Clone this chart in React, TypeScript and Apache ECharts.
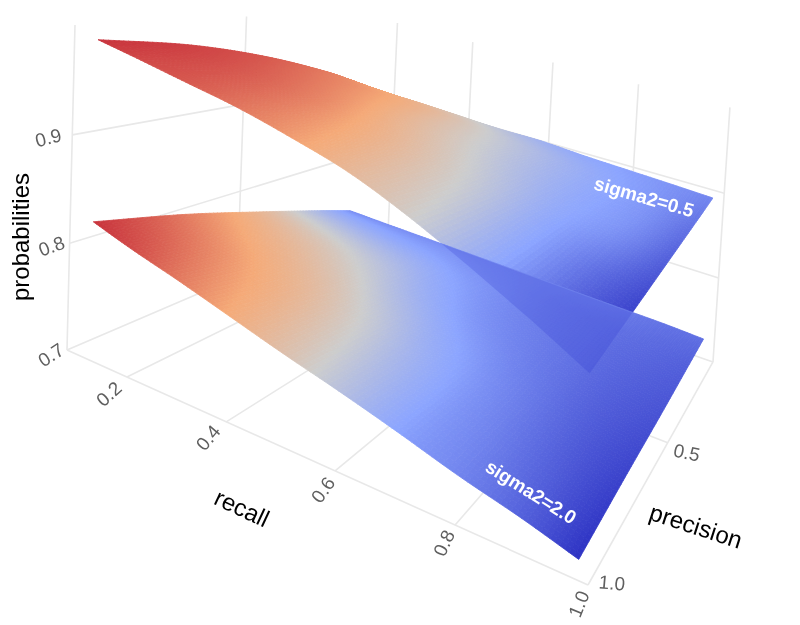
import React, { useEffect, useRef } from "react";
import * as echarts from "echarts";

// ---- values ----
const recallNodes = [0.12, 0.2, 0.3, 0.4, 0.5, 0.6, 0.7, 0.8, 0.9, 0.985];
const precisionNodes = [1, 0.75, 0.5, 0.25, 0.1];

const upperProb = [
  [0.993, 0.987, 0.979, 0.971, 0.96, 0.947, 0.928, 0.905, 0.88, 0.857],
  [0.981, 0.975, 0.968, 0.96, 0.95, 0.938, 0.923, 0.904, 0.884, 0.868],
  [0.961, 0.957, 0.951, 0.945, 0.937, 0.928, 0.917, 0.903, 0.889, 0.879],
  [0.934, 0.931, 0.927, 0.923, 0.919, 0.914, 0.909, 0.902, 0.894, 0.89],
  [0.914, 0.911, 0.91, 0.908, 0.906, 0.906, 0.903, 0.901, 0.899, 0.897],
];
const lowerProb = [
  [0.828, 0.817, 0.805, 0.792, 0.779, 0.767, 0.754, 0.74, 0.728, 0.716],
  [0.808, 0.799, 0.789, 0.778, 0.768, 0.758, 0.748, 0.738, 0.729, 0.721],
  [0.784, 0.778, 0.771, 0.764, 0.758, 0.752, 0.746, 0.739, 0.732, 0.725],
  [0.759, 0.756, 0.753, 0.75, 0.747, 0.744, 0.741, 0.738, 0.735, 0.73],
  [0.743, 0.742, 0.741, 0.74, 0.739, 0.738, 0.737, 0.736, 0.735, 0.733],
];
const upperShade = [
  [1, 0.96, 0.92, 0.86, 0.78, 0.66, 0.52, 0.3, 0.12, 0],
  [0.97, 0.94, 0.89, 0.82, 0.72, 0.6, 0.46, 0.28, 0.14, 0.04],
  [0.92, 0.88, 0.82, 0.74, 0.62, 0.5, 0.38, 0.27, 0.2, 0.1],
  [0.85, 0.8, 0.74, 0.65, 0.53, 0.42, 0.33, 0.26, 0.21, 0.15],
  [0.78, 0.74, 0.66, 0.55, 0.44, 0.33, 0.27, 0.24, 0.21, 0.18],
];
const lowerShade = [
  [1, 0.95, 0.85, 0.74, 0.6, 0.42, 0.25, 0.18, 0.1, 0],
  [0.85, 0.8, 0.73, 0.64, 0.5, 0.34, 0.23, 0.16, 0.09, 0.035],
  [0.67, 0.62, 0.55, 0.45, 0.32, 0.23, 0.18, 0.14, 0.1, 0.07],
  [0.36, 0.33, 0.29, 0.26, 0.22, 0.19, 0.16, 0.14, 0.12, 0.1],
  [0.2, 0.2, 0.2, 0.2, 0.19, 0.18, 0.17, 0.16, 0.14, 0.13],
];
const recallTicks = [0.2, 0.4, 0.6, 0.8, 1.0];
const precisionTicks = [0.5, 1.0];
const probTicks = [0.7, 0.8, 0.9];
const colorStops: [number, number[]][] = [
  [0, [45, 50, 195]],
  [0.25, [140, 165, 255]],
  [0.5, [205, 205, 205]],
  [0.75, [245, 170, 120]],
  [1, [200, 50, 60]],
];

// ---- scene set-up ----
const R0 = 0.07, P0 = 0.05, Z0 = 0.7, Z1 = 1.0;
function project(r: number, p: number, z: number): number[] {
  const u = (r - R0) / (1 - R0);
  const v = (1 - p) / (1 - P0);
  const w = (z - Z0) / (Z1 - Z0);
  const d = 1 - 0.2 * u + 0.47 * v - 0.02065 * w;
  return [
    (67 + 403.4 * u + 435.1 * v + 6.44 * w) / d,
    (350 + 118 * u - 8.3 * v - 325.5 * w) / d,
  ];
}
function shade(c0: number): string {
  const c = Math.max(0, Math.min(1, c0));
  for (let i = 1; i < colorStops.length; i++) {
    if (c <= colorStops[i][0]) {
      const [a, ca] = colorStops[i - 1];
      const [b, cb] = colorStops[i];
      const t = (c - a) / (b - a);
      return `rgb(${ca.map((x, k) => Math.round(x + (cb[k] - x) * t)).join(",")})`;
    }
  }
  return "rgb(200,50,60)";
}
// Smooth reading between table nodes on their real, uneven spacing
function hermite(xs: number[], fs: number[], k: number, t: number) {
  const n = xs.length;
  const slope = (q: number) => {
    const a = Math.max(0, q - 1), b = Math.min(n - 1, q + 1);
    return (fs[b] - fs[a]) / (xs[b] - xs[a]);
  };
  const h = xs[k + 1] - xs[k];
  const t2 = t * t, t3 = t2 * t;
  return (
    (2 * t3 - 3 * t2 + 1) * fs[k] +
    (t3 - 2 * t2 + t) * h * slope(k) +
    (-2 * t3 + 3 * t2) * fs[k + 1] +
    (t3 - t2) * h * slope(k + 1)
  );
}
function smooth(tb: number[][], i: number, j: number, a: number, b: number) {
  const col = tb.map((row) => hermite(recallNodes, row, i, a));
  return hermite(precisionNodes, col, j, b);
}
function surfaceSeries(name: string, zt: number[][], ct: number[][]) {
  const cells: number[][] = [];
  for (let j = 0; j < precisionNodes.length - 1; j++)
    for (let i = 0; i < recallNodes.length - 1; i++) cells.push([i, j]);
  const NA = 12, NB = 20;
  const at = (i: number, j: number, a: number, b: number) => {
    const r = recallNodes[i] + (recallNodes[i + 1] - recallNodes[i]) * a;
    const p = precisionNodes[j] + (precisionNodes[j + 1] - precisionNodes[j]) * b;
    return project(r, p, smooth(zt, i, j, a, b));
  };
  return {
    type: "custom",
    name,
    coordinateSystem: "cartesian2d",
    silent: true,
    clip: false,
    data: cells,
    renderItem: (params: any, api: any) => {
      const [i, j] = cells[params.dataIndex];
      const children: any[] = [];
      for (let m = 0; m < NA; m++)
        for (let n = 0; n < NB; n++) {
          const a0 = m / NA, a1 = (m + 1) / NA, b0 = n / NB, b1 = (n + 1) / NB;
          const pts = [at(i, j, a0, b0), at(i, j, a1, b0), at(i, j, a1, b1), at(i, j, a0, b1)].map((q) => api.coord(q));
          const col = shade(smooth(ct, i, j, (a0 + a1) / 2, (b0 + b1) / 2));
          children.push({
            type: "polygon",
            shape: { points: pts },
            style: { fill: col, stroke: col, lineWidth: 0.8 },
            silent: true,
          });
        }
      return { type: "group", children };
    },
  };
}
// Part of the upper sheet that is seen through the lower sheet
function seenThrough(): number[][] {
  const last = recallNodes.length - 1, lastP = precisionNodes.length - 1;
  const outline: number[][] = [];
  for (let i = 0; i <= last; i++) outline.push(project(recallNodes[i], precisionNodes[0], upperProb[0][i]));
  for (let j = 1; j <= lastP; j++) outline.push(project(recallNodes[last], precisionNodes[j], upperProb[j][last]));
  const a = project(recallNodes[2], precisionNodes[lastP], lowerProb[lastP][2]);
  const b = project(recallNodes[last], precisionNodes[lastP], lowerProb[lastP][last]);
  const side = (q: number[]) => (b[0] - a[0]) * (q[1] - a[1]) - (b[1] - a[1]) * (q[0] - a[0]);
  const out: number[][] = [];
  outline.forEach((q, k) => {
    const nx = outline[(k + 1) % outline.length];
    const s0 = side(q), s1 = side(nx);
    if (s0 >= 0) out.push(q);
    if (s0 >= 0 !== s1 >= 0) {
      const t = s0 / (s0 - s1);
      out.push([q[0] + (nx[0] - q[0]) * t, q[1] + (nx[1] - q[1]) * t]);
    }
  });
  return out;
}

const GRID = "#e8e8e8";
function gridSegments(): number[][][] {
  const segs: number[][][] = [];
  const add = (a: number[], b: number[]) => segs.push([project(a[0], a[1], a[2]), project(b[0], b[1], b[2])]);
  probTicks.forEach((z) => {
    add([R0, 1, z], [R0, P0, z]);
    add([R0, P0, z], [1, P0, z]);
  });
  [1, 0.5].forEach((p) => add([R0, p, Z0], [R0, p, Z1]));
  recallTicks.forEach((r) => {
    add([r, P0, Z0], [r, P0, Z1]);
    add([r, 1, Z0], [r, P0, Z0]);
  });
  precisionTicks.forEach((p) => add([R0, p, Z0], [1, p, Z0]));
  return segs;
}
type Lab = { text: string; at: number[]; rot: number; size: number; color: string; weight?: string };
const deg = Math.PI / 180;
const TICK = "#5f5f5f";
const FONT = '"Liberation Sans", Arial, sans-serif';
function labels(): Lab[] {
  const out: Lab[] = [];
  const zPlace = [[-16, 5, 33], [-18, 3, 20], [-24, 3, 15]];
  probTicks.forEach((z, i) => {
    const q = project(R0, 1, z);
    out.push({ text: z.toFixed(1), at: [q[0] + zPlace[i][0], q[1] + zPlace[i][1]], rot: zPlace[i][2], size: 19, color: TICK });
  });
  const rPlace = [[-18, 17, 42], [-18, 16, 50], [-12, 19, 55], [-11, 18, 65], [-9, 19, 68]];
  recallTicks.forEach((r, i) => {
    const q = project(r, 1, Z0);
    out.push({ text: r.toFixed(1), at: [q[0] + rPlace[i][0], q[1] + rPlace[i][1]], rot: rPlace[i][2], size: 19, color: TICK });
  });
  const pPlace = [[19, 10, -12], [24, -2, -5]];
  precisionTicks.forEach((p, i) => {
    const q = project(1, p, Z0);
    out.push({ text: p.toFixed(1), at: [q[0] + pPlace[i][0], q[1] + pPlace[i][1]], rot: pPlace[i][2], size: 19, color: TICK });
  });
  out.push({ text: "probabilities", at: [20, 237], rot: 90, size: 24, color: "#000" });
  out.push({ text: "recall", at: [242, 508], rot: -25, size: 24, color: "#000" });
  out.push({ text: "precision", at: [696, 526], rot: -18, size: 24, color: "#000" });
  out.push({ text: "sigma2=0.5", at: [644, 197], rot: -16, size: 19, color: "#fff", weight: "bold" });
  out.push({ text: "sigma2=2.0", at: [531, 492], rot: -32, size: 19, color: "#fff", weight: "bold" });
  return out;
}

export default function App() {
  const ref = useRef<HTMLDivElement>(null);
  useEffect(() => {
    const chart = echarts.init(ref.current!, undefined, { renderer: "svg" });
    const segs = gridSegments();
    const labs = labels();
    const overlay = seenThrough();
    chart.setOption({
      animation: false,
      backgroundColor: "#fff",
      grid: { left: 0, right: 0, top: 0, bottom: 0 },
      xAxis: { type: "value", min: 0, max: 800, show: false },
      yAxis: { type: "value", min: 0, max: 625, inverse: true, show: false },
      series: [
        {
          type: "custom",
          name: "grid",
          coordinateSystem: "cartesian2d",
          silent: true,
          clip: false,
          data: segs.map((_, i) => [i, 0]),
          renderItem: (params: any, api: any) => {
            const s = segs[params.dataIndex];
            const a = api.coord(s[0]), b = api.coord(s[1]);
            return {
              type: "line",
              shape: { x1: a[0], y1: a[1], x2: b[0], y2: b[1] },
              style: { stroke: GRID, lineWidth: 1.6 },
              silent: true,
            };
          },
        },
        surfaceSeries("sigma2=0.5", upperProb, upperShade),
        surfaceSeries("sigma2=2.0", lowerProb, lowerShade),
        {
          type: "custom",
          name: "overlap",
          coordinateSystem: "cartesian2d",
          silent: true,
          clip: false,
          data: [[0, 0]],
          renderItem: (_: any, api: any) => ({
            type: "polygon",
            shape: { points: overlay.map((q) => api.coord(q)) },
            style: { fill: "rgba(50,60,210,0.22)" },
            silent: true,
          }),
        },
        {
          type: "custom",
          name: "labels",
          coordinateSystem: "cartesian2d",
          silent: true,
          clip: false,
          data: labs.map((_, i) => [i, 0]),
          renderItem: (params: any, api: any) => {
            const l = labs[params.dataIndex];
            const q = api.coord(l.at);
            return {
              type: "text",
              x: q[0],
              y: q[1],
              rotation: l.rot * deg,
              style: {
                text: l.text,
                fill: l.color,
                font: `${l.weight || "normal"} ${l.size}px ${FONT}`,
                textAlign: "center",
                textVerticalAlign: "middle",
              },
              silent: true,
            };
          },
        },
      ],
    });
    return () => chart.dispose();
  }, []);
  return <div ref={ref} style={{ position: "absolute", left: 0, top: 0, width: 800, height: 625, filter: "blur(0.4px)" }} />;
}
